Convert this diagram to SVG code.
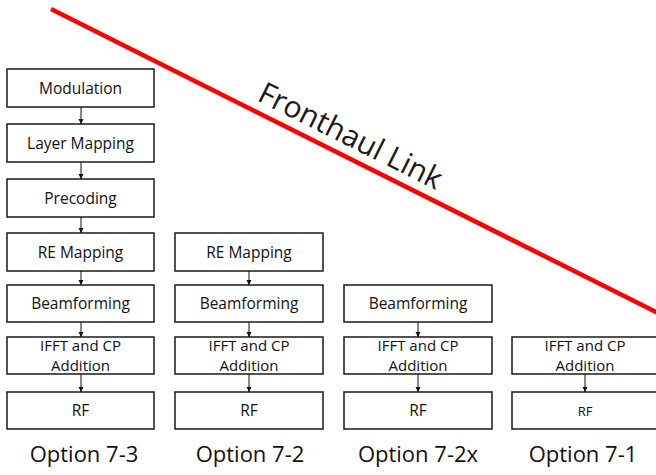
<svg xmlns="http://www.w3.org/2000/svg" width="656" height="475" viewBox="0 0 656 475">
  <style>
    .box { fill: #ffffff; stroke: #1a1a1a; stroke-width: 1.5; }
    .lbl { font-family: "Open Sans", "Liberation Sans", sans-serif; font-size: 15.5px; fill: #111111; text-anchor: middle; }
    .two { font-size: 15px; }
    .small { font-size: 13px; }
    .opt { font-family: "Open Sans", "Liberation Sans", sans-serif; font-size: 22px; fill: #111111; text-anchor: middle; }
    .link { stroke: #111111; stroke-width: 1; fill: none; marker-end: url(#head); }
  </style>
  <defs>
    <marker id="head" markerUnits="userSpaceOnUse" markerWidth="6" markerHeight="6" refX="5" refY="3" orient="auto">
      <path d="M0,0.5 L5,3 L0,5.5 z" fill="#111111"/>
    </marker>
  </defs>

  <rect width="656" height="475" fill="#ffffff"/>

  <!-- Fronthaul boundary -->
  <g id="fronthaul">
    <line x1="51" y1="9" x2="662" y2="315" stroke="#ff0000" stroke-width="4.5"/>
    <text transform="translate(256,100) rotate(26.6)" font-family="Open Sans, Liberation Sans, sans-serif" font-size="30" fill="#1a1a1a">Fronthaul Link</text>
  </g>

  <!-- Option 7-3 column -->
  <g id="c1-modulation"><rect class="box" x="7" y="69" width="147" height="38"/><text class="lbl" x="80.5" y="93.5">Modulation</text></g>
  <g id="c1-layer"><rect class="box" x="7" y="124" width="147" height="38"/><text class="lbl" x="80.5" y="148.5">Layer Mapping</text></g>
  <g id="c1-precoding"><rect class="box" x="7" y="179" width="147" height="38"/><text class="lbl" x="80.5" y="203.5">Precoding</text></g>
  <g id="c1-re"><rect class="box" x="7" y="233" width="147" height="38"/><text class="lbl" x="80.5" y="257.5">RE Mapping</text></g>
  <g id="c1-beam"><rect class="box" x="7" y="285" width="147" height="37"/><text class="lbl" x="80.5" y="309">Beamforming</text></g>
  <g id="c1-ifft"><rect class="box" x="7" y="337" width="147" height="37"/><text class="lbl two" x="80.5" y="350.5">IFFT and CP</text><text class="lbl two" x="80.5" y="371">Addition</text></g>
  <g id="c1-rf"><rect class="box" x="7" y="392" width="147" height="37"/><text class="lbl" x="80.5" y="416">RF</text></g>

  <!-- Option 7-2 column -->
  <g id="c2-re"><rect class="box" x="175" y="233" width="148" height="38"/><text class="lbl" x="249" y="257.5">RE Mapping</text></g>
  <g id="c2-beam"><rect class="box" x="175" y="285" width="148" height="37"/><text class="lbl" x="249" y="309">Beamforming</text></g>
  <g id="c2-ifft"><rect class="box" x="175" y="337" width="148" height="37"/><text class="lbl two" x="249" y="350.5">IFFT and CP</text><text class="lbl two" x="249" y="371">Addition</text></g>
  <g id="c2-rf"><rect class="box" x="175" y="392" width="148" height="37"/><text class="lbl" x="249" y="416">RF</text></g>

  <!-- Option 7-2x column -->
  <g id="c3-beam"><rect class="box" x="344" y="285" width="148" height="37"/><text class="lbl" x="418" y="309">Beamforming</text></g>
  <g id="c3-ifft"><rect class="box" x="344" y="337" width="148" height="37"/><text class="lbl two" x="418" y="350.5">IFFT and CP</text><text class="lbl two" x="418" y="371">Addition</text></g>
  <g id="c3-rf"><rect class="box" x="344" y="392" width="148" height="37"/><text class="lbl" x="418" y="416">RF</text></g>

  <!-- Option 7-1 column -->
  <g id="c4-ifft"><rect class="box" x="512" y="337" width="148" height="37"/><text class="lbl two" x="585" y="350.5">IFFT and CP</text><text class="lbl two" x="585" y="371">Addition</text></g>
  <g id="c4-rf"><rect class="box" x="512" y="392" width="148" height="37"/><text class="lbl small" x="585" y="415.5">RF</text></g>

  <!-- connectors -->
  <g id="connectors">
    <line class="link" x1="81" y1="107" x2="81" y2="124"/>
    <line class="link" x1="81" y1="162" x2="81" y2="179"/>
    <line class="link" x1="81" y1="217" x2="81" y2="233"/>
    <line class="link" x1="81" y1="271" x2="81" y2="285"/>
    <line class="link" x1="81" y1="322" x2="81" y2="337"/>
    <line class="link" x1="81" y1="374" x2="81" y2="392"/>
    <line class="link" x1="249" y1="271" x2="249" y2="285"/>
    <line class="link" x1="249" y1="322" x2="249" y2="337"/>
    <line class="link" x1="249" y1="374" x2="249" y2="392"/>
    <line class="link" x1="418" y1="322" x2="418" y2="337"/>
    <line class="link" x1="418" y1="374" x2="418" y2="392"/>
    <line class="link" x1="585" y1="374" x2="585" y2="392"/>
  </g>

  <!-- option captions -->
  <g id="captions">
    <text class="opt" x="84" y="462">Option 7-3</text>
    <text class="opt" x="250" y="462">Option 7-2</text>
    <text class="opt" x="418" y="462">Option 7-2x</text>
    <text class="opt" x="583" y="462">Option 7-1</text>
  </g>
</svg>
